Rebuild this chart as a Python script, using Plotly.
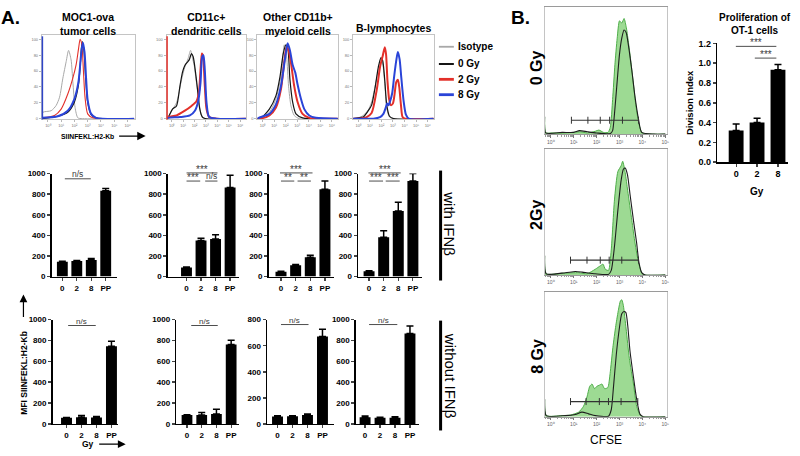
import math
import plotly.graph_objects as go

W, H = 800, 456
FONT = "Liberation Sans"

# ---------------- Panel A (top): flow histograms ----------------
# x = log10 fluorescence (decades), y = % of max
hist_titles = ["MOC1-ova<br>tumor cells", "CD11c+<br>dendritic cells",
               "Other CD11b+<br>myeloid cells", "B-lymphocytes"]
series_names = ["Isotype", "0 Gy", "2 Gy", "8 Gy"]
hist_decades = [0, 1, 2, 3, 4, 5, 6]
hist_decade_labels = ["10⁰", "10¹", "10²", "10³", "10⁴", "10⁵", "10⁶"]
hist_pct_ticks = [0, 20, 40, 60, 80, 100]

moc1_iso_x = [-0.45, -0.38, 0.25, 0.62, 0.88, 1.13, 1.38, 1.56, 1.75, 1.88, 2.05, 2.26, 2.6, 6.5]
moc1_iso_y = [2, 8, 10, 16.5, 27, 51, 72, 86, 74, 47, 14, 1, 0, 0]
moc1_0gy_x = [-0.45, 0.75, 1.5, 2.0, 2.31, 2.46, 2.58, 2.71, 2.83, 3.0, 3.26, 3.63, 6.5]
moc1_0gy_y = [0, 3, 8, 21, 43, 72, 97, 88, 56, 21, 5, 1, 0]
moc1_2gy_x = [-0.45, 0.5, 1.0, 1.5, 1.88, 2.13, 2.31, 2.43, 2.56, 2.68, 2.8, 3.0, 3.38, 6.5]
moc1_2gy_y = [1, 4, 12, 31, 51, 68, 88, 100, 93, 60, 27, 6, 1, 0]
moc1_8gy_x = [-0.45, 0.75, 1.5, 2.0, 2.31, 2.5, 2.63, 2.76, 2.88, 3.0, 3.26, 3.63, 6.5]
moc1_8gy_y = [1, 3, 10, 25, 47, 80, 96, 84, 51, 23, 6, 1, 0]

cd11c_iso_x = [-0.45, -0.30, -0.01, 0.42, 0.86, 1.15, 1.44, 1.65, 1.82, 1.97, 2.17, 2.4, 2.61, 2.9, 6.5]
cd11c_iso_y = [0, 2, 10, 20, 49, 65, 76, 86, 76, 67, 45, 20, 4, 0, 0]
cd11c_0gy_x = [-0.45, -0.30, 0.07, 0.42, 0.72, 0.95, 1.15, 1.36, 1.53, 1.73, 1.88, 2.08, 2.26, 2.46, 2.75, 6.5]
cd11c_0gy_y = [0, 2, 12, 16, 41, 59, 67, 71, 74, 82, 78, 59, 37, 12, 1, 0]
cd11c_2gy_x = [-0.45, -0.30, 0.42, 1.15, 1.73, 2.17, 2.38, 2.52, 2.64, 2.75, 2.9, 3.05, 3.28, 3.92, 6.5]
cd11c_2gy_y = [0, 2, 4, 10, 16, 22, 33, 61, 82, 78, 41, 12, 2, 0, 0]
cd11c_8gy_x = [-0.45, -0.30, 0.72, 1.59, 2.03, 2.32, 2.52, 2.67, 2.78, 2.9, 3.05, 3.28, 3.92, 6.5]
cd11c_8gy_y = [0, 1, 2, 4, 10, 22, 45, 78, 80, 61, 20, 2, 0, 0]

cd11b_iso_x = [-0.45, -0.13, 0.59, 1.16, 1.59, 1.88, 2.08, 2.25, 2.46, 2.74, 3.18, 6.5]
cd11b_iso_y = [0, 1, 8, 25, 53, 93, 78, 41, 16, 4, 0, 0]
cd11b_0gy_x = [-0.45, -0.13, 0.59, 1.16, 1.51, 1.79, 2.02, 2.17, 2.37, 2.60, 2.89, 3.46, 6.5]
cd11b_0gy_y = [0, 1, 12, 29, 53, 82, 93, 90, 49, 21, 6, 1, 0]
cd11b_2gy_x = [-0.45, -0.13, 0.59, 1.16, 1.59, 1.88, 2.08, 2.25, 2.46, 2.74, 3.03, 3.46, 4.04, 6.5]
cd11b_2gy_y = [0, 0, 4, 14, 37, 72, 90, 86, 70, 41, 21, 6, 1, 0]
cd11b_8gy_x = [-0.45, -0.13, 0.59, 1.16, 1.59, 1.97, 2.17, 2.37, 2.60, 2.83, 3.03, 3.32, 3.61, 4.04, 4.61, 6.5]
cd11b_8gy_y = [0, 2, 6, 18, 41, 78, 95, 86, 68, 58, 43, 25, 12, 4, 1, 0]

bcell_iso_x = [-0.45, -0.01, 0.42, 0.86, 1.15, 1.44, 1.73, 1.94, 2.11, 2.29, 2.46, 2.70, 3.05, 6.5]
bcell_iso_y = [0, 1, 4, 11, 21, 40, 61, 75, 69, 44, 13, 2, 0, 0]
bcell_0gy_x = [-0.45, -0.01, 0.42, 0.86, 1.15, 1.44, 1.73, 1.96, 2.11, 2.29, 2.46, 2.70, 3.05, 6.5]
bcell_0gy_y = [0, 1, 2, 10, 17, 38, 65, 77, 73, 48, 17, 3, 0, 0]
bcell_2gy_x = [-0.45, -0.01, 0.72, 1.15, 1.59, 1.88, 2.11, 2.29, 2.40, 2.52, 2.67, 2.81, 2.99, 3.13,
               3.28, 3.42, 3.54, 3.69, 3.83, 4.06, 6.5]
bcell_2gy_y = [0, 0, 2, 7, 36, 65, 79, 90, 81, 48, 24, 17, 19, 30, 46, 49, 40, 17, 2, 0, 0]
bcell_8gy_x = [-0.45, -0.01, 1.30, 1.88, 2.17, 2.35, 2.49, 2.61, 2.75, 2.93, 3.10, 3.28, 3.42, 3.57,
               3.71, 3.92, 4.12, 4.36, 6.5]
bcell_8gy_y = [0, 0, 0, 2, 6, 13, 19, 17, 22, 32, 53, 73, 84, 75, 53, 22, 5, 0, 0]

# ---------------- Panel A (bars): MFI SIINFEKL:H2-Kb ----------------
categories = ["0", "2", "8", "PP"]
ifn_moc1 = [145, 152, 160, 832]
ifn_moc1_err = [5, 5, 15, 22]
ifn_cd11c = [88, 351, 364, 864]
ifn_cd11c_err = [5, 22, 41, 120]
ifn_cd11b = [47, 111, 187, 848]
ifn_cd11b_err = [4, 6, 19, 79]
ifn_bcell = [51, 383, 636, 927]
ifn_bcell_err = [5, 63, 85, 73]

noifn_moc1 = [58, 65, 62, 744]
noifn_moc1_err = [4, 15, 8, 50]
noifn_cd11c = [85, 85, 95, 762]
noifn_cd11c_err = [4, 25, 45, 40]
noifn_cd11b = [57, 58, 68, 670]
noifn_cd11b_err = [5, 5, 8, 56]
noifn_bcell = [64, 58, 60, 867]
noifn_bcell_err = [12, 5, 8, 71]

# ---------------- Panel B: CFSE dilution histograms (% of max) ----------------
b_decades = [0, 1, 2, 3, 4, 5]
b_decade_labels = ["10⁰", "10¹", "10²", "10³", "10⁴", "10⁵"]
b_dose_labels = ["0 Gy", "2Gy", "8 Gy"]

b0_green_x = [-0.27, -0.22, 0.0, 0.5, 1.0, 1.3, 1.6, 1.95, 2.1, 2.3, 2.5, 2.6, 2.7, 2.8, 2.9, 3.0,
              3.1, 3.2, 3.3, 3.4, 3.5, 3.6, 3.7, 3.8, 3.9, 4.0, 4.5, 5.0]
b0_green_y = [15, 1, 1, 1, 1.5, 2, 1, 2.5, 3.5, 1.5, 1.5, 6, 30, 60, 83, 98,
              96, 100, 92, 78, 62, 45, 27, 14, 5, 1, 0, 0]
b0_black_x = [-0.27, -0.22, 0.5, 1.0, 1.25, 1.6, 2.0, 2.6, 2.7, 2.77, 2.88, 3.0, 3.1, 3.2, 3.29,
              3.39, 3.54, 3.68, 3.83, 3.97, 4.5, 5.0]
b0_black_y = [15, 1, 1.5, 1.5, 3, 2, 1, 0.5, 3, 15, 41, 69, 83, 90, 88, 77, 55, 32, 13, 1.5, 0, 0]
b0_gate_x = [0.9, 1.62, 2.16, 2.57, 3.13, 3.83]
b0_gate_y = [12, 12, 12, 12, 12, 12]

b2_green_x = [-0.27, -0.2, 0.49, 1.22, 1.58, 1.94, 2.16, 2.28, 2.38, 2.52, 2.64, 2.78, 2.93, 3.07,
              3.14, 3.25, 3.36, 3.54, 3.68, 3.83, 3.97, 4.12, 5.0]
b2_green_y = [17, 1, 1.5, 2, 1, 5, 8, 9.5, 5, 4, 22, 66, 91, 96, 100, 90, 74, 48, 28, 11, 2, 0, 0]
b2_black_x = [-0.27, -0.2, 0.64, 1.07, 1.36, 1.94, 2.52, 2.64, 2.78, 2.93, 3.07, 3.17, 3.25, 3.35,
              3.46, 3.61, 3.75, 3.85, 3.97, 4.12, 5.0]
b2_black_y = [17, 1, 2, 3, 2.5, 1, 0.5, 4, 25, 57, 83, 93, 94, 88, 71, 48, 28, 11, 2, 0, 0]
b2_gate_x = [0.86, 1.58, 2.16, 2.55, 3.1, 3.83]
b2_gate_y = [13, 13, 13, 13, 13, 13]

b8_green_x = [-0.27, -0.2, 0.49, 0.86, 1.22, 1.43, 1.58, 1.7, 1.8, 1.91, 2.01, 2.12, 2.23, 2.35,
              2.49, 2.59, 2.71, 2.84, 2.96, 3.04, 3.1, 3.17, 3.29, 3.43, 3.61, 3.75, 3.9, 4.04, 5.0]
b8_green_y = [15, 1, 1, 1.5, 4, 9, 17, 26, 28, 24, 26, 27, 28, 24, 25, 37, 59, 78, 92, 99, 100,
              95, 75, 50, 28, 9, 1.5, 0, 0]
b8_black_x = [-0.27, -0.2, 0.64, 1.07, 1.36, 1.65, 1.94, 2.52, 2.64, 2.74, 2.86, 2.99, 3.1, 3.2,
              3.28, 3.36, 3.46, 3.61, 3.75, 3.9, 4.04, 5.0]
b8_black_y = [15, 1, 1, 2, 4, 2.5, 1, 0.5, 6, 26, 53, 75, 88, 90, 89, 78, 56, 34, 15, 2, 0, 0]
b8_gate_x = [0.86, 1.54, 2.12, 2.52, 3.07, 3.8]
b8_gate_y = [13, 13, 13, 13, 13, 13]

# ---------------- Panel B: proliferation of OT-1 cells ----------------
prolif_gy = ["0", "2", "8"]
prolif_index = [0.32, 0.40, 0.935]
prolif_err = [0.066, 0.045, 0.053]

# =====================================================================
fig = go.Figure()
layout = dict(width=W, height=H, margin=dict(l=0, r=0, t=0, b=0),
              paper_bgcolor="white", plot_bgcolor="white", showlegend=False,
              font=dict(family=FONT, color="black"))
shapes, annotations = [], []


def fx(px):
    return px / W


def fy(py):
    return 1 - py / H


axis_count = [0]


def new_axes(xdom, ydom, xkw, ykw):
    axis_count[0] += 1
    n = axis_count[0]
    s = "" if n == 1 else str(n)
    layout["xaxis" + s] = dict(domain=[fx(xdom[0]), fx(xdom[1])], anchor="y" + s,
                               showgrid=False, zeroline=False, **xkw)
    layout["yaxis" + s] = dict(domain=[fy(ydom[1]), fy(ydom[0])], anchor="x" + s,
                               showgrid=False, zeroline=False, **ykw)
    return "x" + s, "y" + s


def text(px, py, s, size, bold=False, angle=0, xanchor="center", yanchor="middle", color="black"):
    annotations.append(dict(x=fx(px), y=fy(py), xref="paper", yref="paper",
                            text=f"<b>{s}</b>" if bold else s, showarrow=False,
                            font=dict(family=FONT, size=size, color=color), textangle=angle,
                            xanchor=xanchor, yanchor=yanchor))


def hline(x0, x1, y, color="black", width=1.0):
    shapes.append(dict(type="line", xref="paper", yref="paper", x0=fx(x0), x1=fx(x1),
                       y0=fy(y), y1=fy(y), line=dict(color=color, width=width)))


def vline(x, y0, y1, color="black", width=1.0):
    shapes.append(dict(type="line", xref="paper", yref="paper", x0=fx(x), x1=fx(x),
                       y0=fy(y0), y1=fy(y1), line=dict(color=color, width=width)))


# ---------- top histograms ----------
series_colors = ["#a8a8a8", "#151515", "#e3302a", "#2a44d8"]
series_widths = [1.0, 1.2, 2.0, 2.0]
hist_curves = [
    [(moc1_iso_x, moc1_iso_y), (moc1_0gy_x, moc1_0gy_y), (moc1_2gy_x, moc1_2gy_y), (moc1_8gy_x, moc1_8gy_y)],
    [(cd11c_iso_x, cd11c_iso_y), (cd11c_0gy_x, cd11c_0gy_y), (cd11c_2gy_x, cd11c_2gy_y), (cd11c_8gy_x, cd11c_8gy_y)],
    [(cd11b_iso_x, cd11b_iso_y), (cd11b_0gy_x, cd11b_0gy_y), (cd11b_2gy_x, cd11b_2gy_y), (cd11b_8gy_x, cd11b_8gy_y)],
    [(bcell_iso_x, bcell_iso_y), (bcell_0gy_x, bcell_0gy_y), (bcell_2gy_x, bcell_2gy_y), (bcell_8gy_x, bcell_8gy_y)],
]
hist_boxes = [(42, 135), (167, 247), (258, 339), (354, 435)]
hist_title_y = [19.5, 19.5, 19.5, 24]
for i, (curves, (x0, x1)) in enumerate(zip(hist_curves, hist_boxes)):
    xa, ya = new_axes(
        (x0, x1), (31, 117),
        dict(range=[-0.45, 6.54], tickmode="array", tickvals=hist_decades, ticktext=hist_decade_labels,
             tickfont=dict(size=4, color="#777"), ticks="outside", ticklen=2, tickwidth=0.6,
             tickcolor="#888", showline=True, linecolor="#c4c4c4", linewidth=1, mirror=True),
        dict(range=[-1, 105], tickmode="array", tickvals=hist_pct_ticks,
             tickfont=dict(size=4, color="#777"), ticks="outside", ticklen=2, tickwidth=0.6,
             tickcolor="#888", showline=True, linecolor="#c4c4c4", linewidth=1, mirror=True))
    for k, (cx, cy) in enumerate(curves):
        w = series_widths[k]
        if i == 0 and k == 2:
            w = 1.1
        fig.add_trace(go.Scatter(x=cx, y=cy, mode="lines", name=series_names[k],
                                 line=dict(color=series_colors[k], width=w, shape="spline", smoothing=0.7),
                                 xaxis=xa, yaxis=ya, hoverinfo="skip", cliponaxis=True))
    text((x0 + x1) / 2, hist_title_y[i], hist_titles[i], 10.5, bold=True)

# coloured left edges (events piled on axis)
vline(42.5, 32, 117, color="#2f45c8", width=1.5)
vline(167.5, 32, 117, color="#e3302a", width=1.5)

# legend (manual)
legend_y = [42.7, 60.3, 76, 91.7]
for k, name in enumerate(series_names):
    hline(440, 455, legend_y[k], color=series_colors[k], width=series_widths[k] + 0.8)
    text(457, legend_y[k], name, 10, bold=True, xanchor="left")

# x-axis caption with arrow
text(88, 134, "SIINFEKL:H2-Kb", 6.8, bold=True)
annotations.append(dict(x=fx(146), y=fy(134), xref="paper", yref="paper", text="", showarrow=True,
                        ax=-28, ay=0, arrowhead=2, arrowsize=1.4, arrowwidth=1.2, arrowcolor="black"))

# ---------- bar charts ----------
bar_tick_font = dict(family=FONT, size=8, color="black", weight="bold")


def bar_panel(xdom, ydom, xr, yr, vals, errs, cats, width, dtick, fmt=None, tfont=None):
    tf = tfont or bar_tick_font
    yk = dict(range=yr, tickmode="linear", tick0=0, dtick=dtick, tickfont=tf,
              ticks="outside", ticklen=3, tickwidth=1.5, showline=True, linecolor="black",
              linewidth=1.5)
    if fmt:
        yk["tickformat"] = fmt
    xa, ya = new_axes(
        xdom, ydom,
        dict(type="category", range=xr, tickfont=tf, ticks="outside", ticklen=3,
             tickwidth=1.2, showline=True, linecolor="black", linewidth=1.5),
        yk)
    fig.add_trace(go.Bar(x=cats, y=vals, width=width, marker=dict(color="black", line=dict(width=0)),
                         error_y=dict(type="data", array=errs, arrayminus=[0] * len(errs),
                                      symmetric=False, color="black", thickness=1.5, width=3.5),
                         xaxis=xa, yaxis=ya, cliponaxis=False, hoverinfo="skip"))


row2_y = (172.3, 277.7)
row3_y = (321.7, 428.3)
bar_panel((51.7, 117), row2_y, [-0.745, 3.76], [0, 1000], ifn_moc1, ifn_moc1_err, categories, 0.75, 200)
bar_panel((168.3, 240), row2_y, [-1.28, 3.64], [0, 1000], ifn_cd11c, ifn_cd11c_err, categories, 0.75, 200)
bar_panel((269.3, 335), row2_y, [-0.845, 3.63], [0, 1000], ifn_cd11b, ifn_cd11b_err, categories, 0.75, 200)
bar_panel((359, 423.3), row2_y, [-0.75, 3.64], [0, 1000], ifn_bcell, ifn_bcell_err, categories, 0.75, 200)
bar_panel((52.7, 118.5), row3_y, [-0.93, 3.45], [0, 1000], noifn_moc1, noifn_moc1_err, categories, 0.73, 200)
bar_panel((176.7, 240), row3_y, [-0.73, 3.56], [0, 1000], noifn_cd11c, noifn_cd11c_err, categories, 0.73, 200)
bar_panel((267.7, 335), row3_y, [-0.70, 3.78], [0, 800], noifn_cd11b, noifn_cd11b_err, categories, 0.73, 200)
bar_panel((356.7, 420), row3_y, [-0.62, 3.6], [0, 1000], noifn_bcell, noifn_bcell_err, categories, 0.73, 200)
bar_panel((719, 790), (39.3, 160.7), [-0.905, 2.48], [0, 1.2001], prolif_index, prolif_err, prolif_gy,
          0.71, 0.2, fmt=".1f", tfont=dict(family=FONT, size=9, color="black", weight="bold"))

# significance marks
SIG = "#3a3a3a"


def sig(x0, x1, py, label, size=None):
    hline(x0, x1, py, color=SIG, width=0.9)
    stars = "*" in label
    if size is None:
        size = 10 if stars else 8.5
    annotations.append(dict(x=fx((x0 + x1) / 2), y=fy(py), xref="paper", yref="paper", text=label,
                            showarrow=False, font=dict(family=FONT, size=size, color=SIG),
                            xanchor="center", yanchor="bottom", yshift=-4 if stars else -2))


sig(65, 91, 177.7, "n/s")
sig(187, 218, 171.7, "***")
sig(187, 200.7, 180, "***")
sig(205.7, 218, 180, "n/s")
sig(280.7, 313.3, 171.7, "***")
sig(281.7, 295, 180, "**")
sig(298.3, 311.7, 180, "**")
sig(369.3, 401.7, 171.7, "***")
sig(370, 384, 180, "***")
sig(386.7, 400.7, 180, "***")
sig(68.3, 96, 327.7, "n/s", 8)
sig(191.7, 218.3, 327.7, "n/s", 8)
sig(281.7, 309.3, 326.7, "n/s", 8)
sig(370, 398.3, 326.7, "n/s", 8)
sig(737.7, 778.3, 42.3, "***", 10)
sig(756.7, 778.3, 54.3, "***", 10)

# condition brackets
vline(441.7, 169.3, 281.7, width=3)
text(451, 224, "with IFNβ", 15, angle=90)
vline(441.7, 322.7, 435, width=3)
text(451, 379, "without IFNβ", 15, angle=90)

# y caption with arrow
text(24, 376, "MFI SIINFEKL:H2-Kb", 8.5, bold=True, angle=-90)
annotations.append(dict(x=fx(23.5), y=fy(296), xref="paper", yref="paper", text="", showarrow=True,
                        ax=0, ay=24, arrowhead=2, arrowsize=1.3, arrowwidth=1.2, arrowcolor="black"))
# x caption with arrow
text(88, 449, "Gy", 8.5, bold=True)
annotations.append(dict(x=fx(126), y=fy(449), xref="paper", yref="paper", text="", showarrow=True,
                        ax=-28, ay=0, arrowhead=2, arrowsize=1.3, arrowwidth=1.2, arrowcolor="black"))

# ---------- Panel B CFSE histograms ----------
b_minor = [n + math.log10(k) for n in range(-1, 6) for k in range(2, 10)
           if -0.27 < n + math.log10(k) < 5.09]
b_groups = [
    ((2, 132), 110, b0_green_x, b0_green_y, b0_black_x, b0_black_y, b0_gate_x, b0_gate_y, 64),
    ((147, 276), 111, b2_green_x, b2_green_y, b2_black_x, b2_black_y, b2_gate_x, b2_gate_y, 215),
    ((293, 421), 107, b8_green_x, b8_green_y, b8_black_x, b8_black_y, b8_gate_x, b8_gate_y, 359),
]
for j, (ydom, ytop, gx, gy, kx, ky, tx, ty, label_y) in enumerate(b_groups):
    xa, ya = new_axes(
        (546, 669), ydom,
        dict(range=[-0.27, 5.09], tickmode="array", tickvals=b_decades, ticktext=b_decade_labels,
             tickfont=dict(size=5, color="#666"), ticks="outside", ticklen=2.5, tickwidth=0.8,
             tickcolor="#555", showline=True, linecolor="#9a9a9a", linewidth=1, mirror=True,
             minor=dict(tickvals=b_minor, ticks="outside", ticklen=1.5, tickwidth=0.6, tickcolor="#555")),
        dict(range=[0, ytop], showticklabels=False, ticks="", showline=True,
             linecolor="#c4c4c4", linewidth=1, mirror=True))
    fig.add_trace(go.Scatter(x=gx, y=gy, mode="lines", fill="tozeroy", fillcolor="rgba(140,212,128,0.85)",
                             line=dict(color="#4fae4a", width=1, shape="spline", smoothing=0.6),
                             xaxis=xa, yaxis=ya, hoverinfo="skip"))
    fig.add_trace(go.Scatter(x=kx, y=ky, mode="lines",
                             line=dict(color="#1e1e1e", width=1.1, shape="spline", smoothing=0.6),
                             xaxis=xa, yaxis=ya, hoverinfo="skip"))
    fig.add_trace(go.Scatter(x=tx, y=ty, mode="lines+markers",
                             line=dict(color="#333", width=1.2),
                             marker=dict(symbol="line-ns-open", size=5, line=dict(width=1, color="#333")),
                             xaxis=xa, yaxis=ya, hoverinfo="skip"))
    text(538, label_y, b_dose_labels[j], 16, bold=True, angle=-90)

text(608, 445, "CFSE", 12)

# proliferation chart texts
text(757, 19.5, "Proliferation of<br>OT-1 cells", 10, bold=True)
text(692, 100, "Division Index", 9.5, bold=True, angle=-90)
text(759, 191, "Gy", 10, bold=True)

# panel letters
text(11, 13, "A.", 19, bold=True)
text(522, 13, "B.", 19, bold=True)

layout["shapes"] = shapes
layout["annotations"] = annotations
fig.update_layout(**layout)
fig.write_html("out.html", config={"displayModeBar": False, "staticPlot": True},
               post_script="document.body.style.margin='0px';document.body.style.padding='0px';"
                           "document.body.style.overflow='hidden';")
